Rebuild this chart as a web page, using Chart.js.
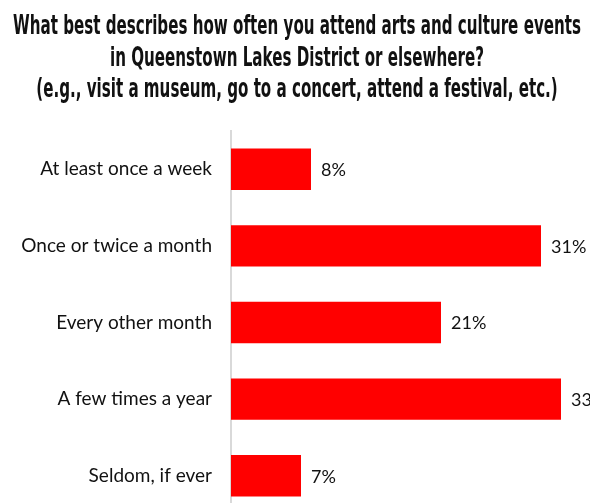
<!DOCTYPE html>
<html>
<head>
<meta charset="utf-8">
<script src="https://cdn.jsdelivr.net/npm/chart.js@4.4.1/dist/chart.umd.min.js"></script>
<style>
  html, body { margin: 0; padding: 0; background: #fff; overflow: hidden; }
  #wrap { position: relative; width: 640px; height: 520px; }
</style>
</head>
<body>
<div id="wrap"><canvas id="c"></canvas></div>
<script>
// Survey question and answers
const titleLines = [
  'What best describes how often you attend arts and culture events',
  'in Queenstown Lakes District or elsewhere?',
  '(e.g., visit a museum, go to a concert, attend a festival, etc.)'
];
const categories = [
  'At least once a week',
  'Once or twice a month',
  'Every other month',
  'A few times a year',
  'Seldom, if ever'
];
const percentages = [8, 31, 21, 33, 7];

const labelFont = '"Lato", "Open Sans", sans-serif';

// Condensed headline drawn above the plot area
const headline = {
  id: 'headline',
  afterDraw(chart) {
    const ctx = chart.ctx;
    ctx.save();
    ctx.fillStyle = '#111';
    ctx.textAlign = 'center';
    ctx.textBaseline = 'alphabetic';
    ctx.font = 'bold 26px "Liberation Sans Narrow", "DejaVu Sans Condensed", sans-serif';
    const baselines = [34, 65.5, 97];
    const w0 = ctx.measureText(titleLines[0]).width;
    const sx = 568 / w0;
    titleLines.forEach((line, i) => {
      ctx.save();
      ctx.translate(297, baselines[i]);
      ctx.scale(sx, 1);
      ctx.fillText(line, 0, 0);
      ctx.restore();
    });
    ctx.restore();
  }
};

// Percentage labels at the end of each bar
const valueLabels = {
  id: 'valueLabels',
  afterDatasetsDraw(chart) {
    const ctx = chart.ctx;
    const meta = chart.getDatasetMeta(0);
    ctx.save();
    ctx.fillStyle = '#111';
    ctx.font = '18px ' + labelFont;
    ctx.textAlign = 'left';
    ctx.textBaseline = 'middle';
    meta.data.forEach((bar, i) => {
      ctx.fillText(percentages[i] + '%', bar.x + 10, bar.y + 1);
    });
    ctx.restore();
  }
};

new Chart(document.getElementById('c'), {
  type: 'bar',
  data: {
    labels: categories,
    datasets: [{
      data: percentages,
      backgroundColor: '#ff0000',
      borderWidth: 0,
      barPercentage: 0.54,
      categoryPercentage: 1
    }]
  },
  options: {
    indexAxis: 'y',
    responsive: true,
    maintainAspectRatio: false,
    animation: false,
    devicePixelRatio: 1,
    layout: { padding: { top: 131, bottom: 6, left: 0, right: 9 } },
    plugins: {
      legend: { display: false },
      title: { display: false },
      tooltip: { enabled: false }
    },
    scales: {
      x: {
        display: false,
        min: 0,
        max: 40
      },
      y: {
        afterFit(scale) {
          scale.width = 231;
          scale.paddingTop = 0;
          scale.paddingBottom = 0;
        },
        grid: { display: false, drawTicks: false },
        border: { display: true, color: '#d9d9d9', width: 2 },
        ticks: {
          padding: 19,
          color: '#111',
          font: { family: labelFont, size: 19 }
        }
      }
    }
  },
  plugins: [headline, valueLabels]
});
</script>
</body>
</html>
